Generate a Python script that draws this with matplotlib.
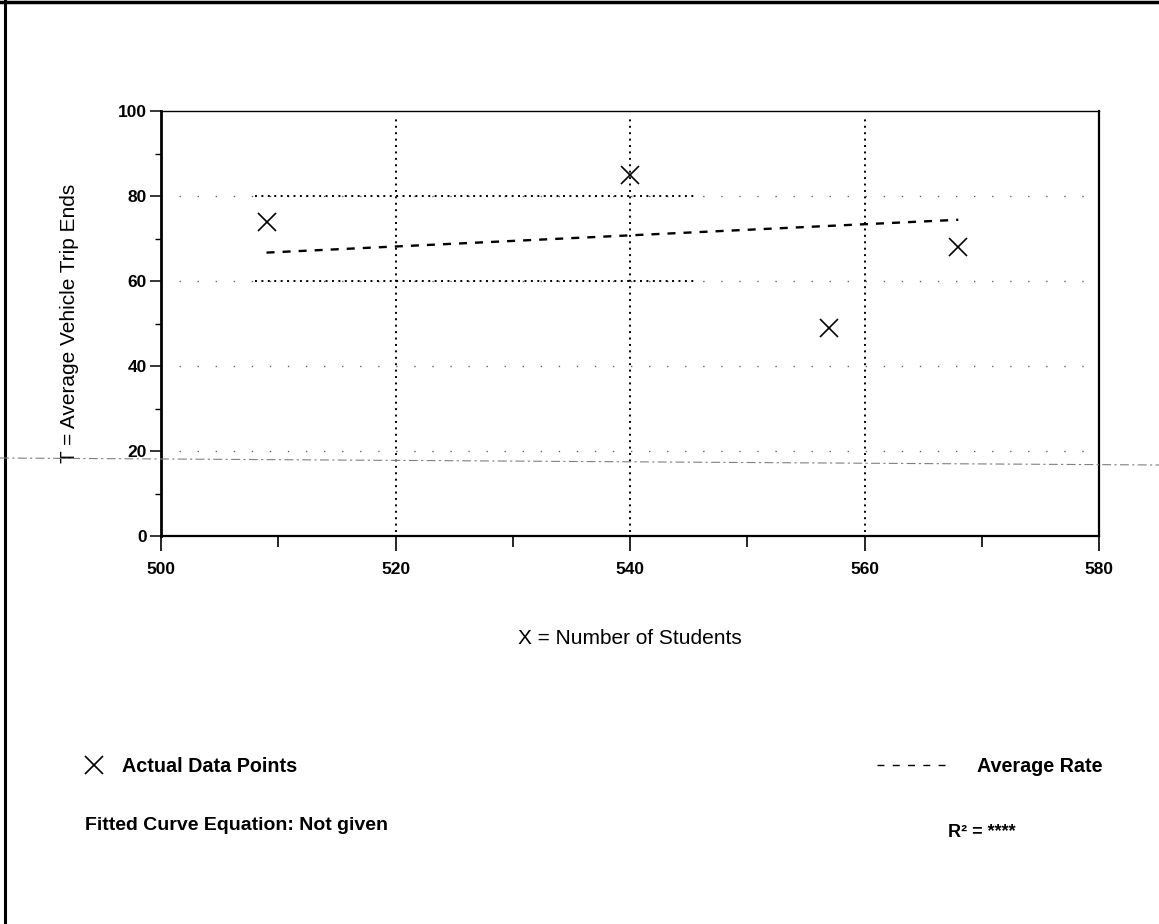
import matplotlib
matplotlib.use("Agg")
import matplotlib.pyplot as plt
from matplotlib.lines import Line2D

# Observed sites: enrollment vs. average vehicle trip ends
students = [509, 540, 557, 568]
trip_ends = [74, 85, 49, 68]

# Average rate (trip ends per student), drawn across the observed range
average_rate = 0.131

x_major = [500, 520, 540, 560, 580]
x_minor = [510, 530, 550, 570]
y_major = [0, 20, 40, 60, 80, 100]
y_minor = [10, 30, 50, 70, 90]

plt.rcParams['font.family'] = ['Liberation Sans', 'DejaVu Sans']

W, H = 1159, 924
fig = plt.figure(figsize=(W / 100, H / 100), dpi=100)
ax = fig.add_axes([161 / W, 1 - 536 / H, (1099 - 161) / W, (536 - 111) / H])

ax.set_xlim(500, 580)
ax.set_ylim(0, 100)

# Grid: dotted verticals, sparse horizontals, denser dotted band at 60/80
for gx in x_major[1:-1]:
    ax.axvline(gx, ymin=0.01, ymax=0.985, color='black', lw=1.4,
               ls=(0, (1, 2.3)), zorder=1)
for gy in y_major[1:-1]:
    ax.axhline(gy, color='0.4', lw=1.0, ls=(0, (1, 12)), zorder=1)
ax.hlines([60, 80], 508, 545.5, color='black', lw=1.4, ls=(0, (1, 2.3)), zorder=1)

# Data points
ax.plot(students, trip_ends, ls='none', marker='x', ms=12.5, mew=1.2,
        color='black', zorder=3)

# Average-rate line
xs = [min(students), max(students)]
ax.plot(xs, [average_rate * x for x in xs], color='black', lw=1.7,
        ls=(0, (3.4, 3.4)), zorder=2)

# Axes styling
ax.set_xticks(x_major)
ax.set_xticks(x_minor, minor=True)
ax.set_yticks(y_major)
ax.set_yticks(y_minor, minor=True)
ax.set_xticklabels([str(v) for v in x_major])
ax.set_yticklabels([str(v) for v in y_major])
ax.tick_params(axis='x', which='major', length=10.5, width=1.2, pad=8.5,
               labelsize=12.5)
ax.tick_params(axis='x', which='minor', length=8, width=1.2)
ax.tick_params(axis='y', which='major', length=8, width=1.1, pad=2,
               labelsize=12.5)
ax.tick_params(axis='y', which='minor', length=4, width=1.0)
for lab in ax.get_xticklabels() + ax.get_yticklabels():
    lab.set_fontweight('bold')

ax.spines['left'].set_linewidth(2.0)
ax.spines['bottom'].set_linewidth(1.6)
ax.spines['right'].set_linewidth(1.6)
ax.spines['top'].set_linewidth(1.0)

ax.set_xlabel('X = Number of Students', fontsize=15)
ax.xaxis.set_label_coords(0.5, -(629 - 536) / 425)
ax.set_ylabel('T = Average Vehicle Trip Ends', fontsize=15)
ax.yaxis.set_label_coords(-(161 - 79) / 938, 0.5)

# Key below the chart
def fx(px):
    return px / W

def fy(py):
    return 1 - py / H

fig.add_artist(Line2D([fx(94)], [fy(765)], marker='x', ms=12.5, mew=1.2,
                      color='black', ls='none'))
fig.text(fx(122), fy(772), 'Actual Data Points', fontsize=14.2,
         fontweight='bold', va='baseline')
fig.text(fx(85), fy(830), 'Fitted Curve Equation: Not given', fontsize=14,
         fontweight='bold', va='baseline')
fig.add_artist(Line2D([fx(877), fx(953)], [fy(765), fy(765)], color='black',
                      lw=1.0, ls=(0, (5, 6))))
fig.text(fx(977), fy(772), 'Average Rate', fontsize=14.2, fontweight='bold',
         va='baseline')
fig.text(fx(948), fy(837), 'R² = ****', fontsize=13, fontweight='bold',
         va='baseline')

# Page edges and fold line across the sheet
fig.add_artist(Line2D([0, 1], [fy(1.5), fy(1.5)], color='black', lw=2.5))
fig.add_artist(Line2D([fx(4.5), fx(4.5)], [0, 1], color='black', lw=2.2))
fig.add_artist(Line2D([0, 1], [fy(458), fy(465)], color='0.5', lw=0.8,
                      ls=(0, (8, 3, 2, 3))))

fig.savefig('out.png', dpi=100)
